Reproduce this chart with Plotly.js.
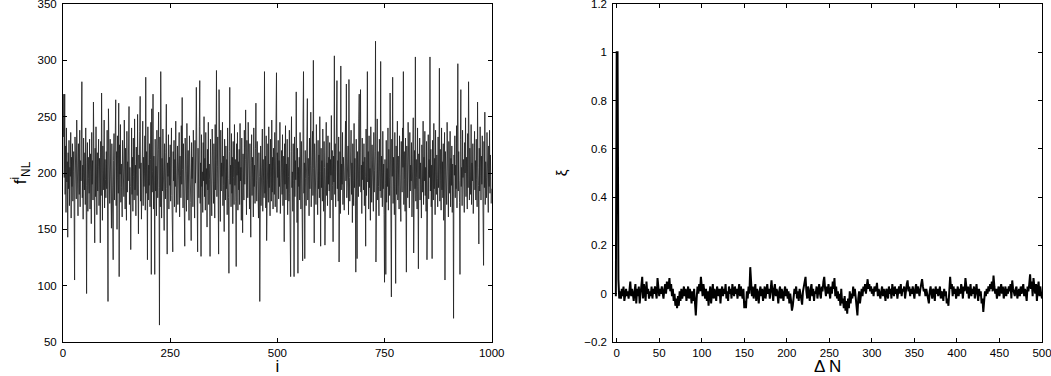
<!DOCTYPE html>
<html>
<head>
<meta charset="utf-8">
<script src="https://cdn.plot.ly/plotly-3.0.1.min.js"></script>
<style>
  html, body { margin: 0; padding: 0; background: #fff; }
  #chart { width: 1051px; height: 376px; }
</style>
</head>
<body>
<div id="chart"></div>
<script>
// Left panel: chain of f_NL samples, one value per step i = 1..1000
var fnl = [
  232,270,196,270,181,224,165,240,192,210, 143,218,186,229,171,205,197,236,160,214,
  188,226,175,201,219,168,105,232,193,209, 177,247,185,214,162,226,199,181,238,170,
  211,193,224,281,178,207,159,231,196,185,
  218,172,240,189,93,209,227,166,214,195, 182,230,168,217,201,155,236,190,211,176,
  263,187,205,138,222,179,241,196,163,218, 184,206,230,171,213,192,138,228,180,271,
  197,158,224,203,185,247,169,212,194,178,
  219,186,238,164,86,257,192,207,173,230, 188,215,151,226,197,180,123,211,235,176,
  204,189,265,171,219,150,233,196,182,262, 108,225,199,243,174,208,187,161,229,194,
  216,179,247,190,168,222,200,158,237,183,
  210,193,226,259,172,205,188,132,219,240, 181,214,166,231,197,176,248,185,207,162,
  223,199,180,252,190,146,216,204,237,268, 175,209,159,228,193,246,171,214,188,200,
  233,167,285,182,219,195,123,241,176,207,
  189,226,170,212,245,110,257,183,201,270, 168,215,193,110,230,184,206,162,238,196,
  178,221,254,187,65,232,170,290,195,160, 213,184,239,171,206,149,226,192,177,218,
  261,186,128,209,197,234,168,214,189,225,
  175,203,240,180,158,130,219,193,229,170, 212,188,246,165,207,196,224,172,210,185,
  236,161,215,198,178,242,190,267,203,169, 226,187,212,135,231,180,205,166,244,193,
  176,220,197,158,233,186,211,174,140,227,
  195,214,170,238,182,207,160,229,191,216, 276,185,203,130,222,196,178,241,282,173,
  209,126,234,188,201,165,227,193,250,179, 213,167,236,190,204,152,221,185,245,172,
  208,194,126,230,181,217,162,239,188,205,
  173,226,198,160,243,185,211,291,179,206, 232,168,128,274,194,220,157,238,184,209,
  197,245,171,215,189,148,230,201,176,224, 186,212,163,240,195,178,111,219,276,190,
  207,170,235,182,214,155,228,196,172,243,
  189,212,175,117,226,198,236,167,210,185, 221,172,244,193,205,158,231,186,147,217,
  199,176,238,190,212,256,183,163,229,201, 178,245,192,215,168,226,187,143,209,234,
  180,214,196,161,240,188,207,173,222,262,
  193,175,228,186,210,160,218,197,86,190, 224,171,206,185,239,166,212,193,178,290,
  182,215,169,233,140,204,190,226,174,241, 187,208,162,230,196,175,247,183,214,168,
  222,199,181,236,170,210,192,289,165,218,
  196,229,177,211,188,245,164,207,193,220, 181,234,171,203,215,139,226,190,242,176,
  208,186,230,163,214,197,175,238,182,160, 108,219,250,187,201,166,226,193,108,232,
  179,211,194,272,183,156,222,111,205,188,
  214,176,236,191,168,228,199,184,122,247, 290,182,209,124,220,195,171,241,188,266,
  176,213,197,162,231,186,207,254,170,219, 192,237,180,300,204,138,226,189,214,172,
  243,195,208,163,229,186,216,178,250,201,
  135,222,187,211,175,239,193,166,228,205, 136,218,196,245,180,209,171,233,190,214,
  184,227,160,212,198,251,176,220,189,139, 215,192,304,181,226,170,207,243,282,186,
  211,175,232,121,198,219,164,295,185,208,
  190,236,172,214,201,167,229,185,246,193, 279,178,210,188,224,163,283,196,175,217,
  202,238,181,209,156,226,193,171,244,187, 213,176,112,230,192,124,219,205,179,248,
  270,188,216,274,183,207,164,231,194,210,
  185,226,171,214,197,135,239,180,206,290, 192,219,168,233,187,204,158,241,196,174,
  225,189,211,166,236,183,202,219,317,121, 210,193,248,176,219,188,162,230,201,184,
  299,178,215,195,170,237,186,208,163,103,
  212,191,110,229,174,204,188,240,167,221, 196,180,271,209,185,90,230,197,285,173,
  214,188,163,236,199,102,224,181,207,246, 176,215,192,168,233,189,210,157,228,198,
  183,240,205,290,172,219,194,166,231,187,
  112,224,199,178,245,190,211,169,236,184, 207,193,227,161,214,182,249,129,203,220,
  186,303,175,212,196,168,240,188,115,217, 195,231,176,209,190,160,225,201,183,246,
  172,214,193,237,180,205,166,228,123,210,
  189,234,177,212,196,303,184,221,170,207, 124,229,192,176,244,186,213,163,238,199,
  181,216,195,170,232,187,208,293,175,221, 193,167,240,185,210,178,226,158,203,236,
  105,219,188,207,172,245,194,215,161,228,
  196,182,237,170,213,189,224,165,208,191, 71,216,198,233,178,207,186,242,169,211,
  297,184,219,193,174,110,230,274,188,205, 171,238,196,212,183,165,227,200,249,179,
  214,192,168,235,187,281,206,176,222,195,
  181,243,172,209,193,226,164,218,199,237, 185,211,176,230,194,170,263,205,189,137,
  222,184,241,197,176,215,190,233,168,206, 118,228,187,254,172,210,196,178,236,193,
  207,165,224,188,238,182,216,197,173,186
];

// Right panel: autocorrelation xi for lags -1..500
var xi = [
  -0.01,
  1.0, 1.0, 0.06, -0.02, 0.01, -0.02, 0.02, -0.01, 0.03, -0.03,
  0.00, 0.02, -0.01, 0.01, -0.02, 0.03, 0.05, -0.01, 0.02, 0.00,
  -0.03, 0.01, 0.04, -0.04, 0.02, -0.01, 0.03, -0.04, 0.01, 0.05,
  0.07, -0.02, 0.04, 0.01, -0.03, 0.05, 0.00, 0.02, -0.02, 0.01,
  -0.01, 0.03, -0.02, 0.02, 0.00, 0.03, 0.01, -0.02, 0.065, 0.02,
  -0.01, 0.02, 0.00, 0.03, 0.01, -0.02, 0.02, 0.04, 0.00, 0.05,
  0.02, 0.03, 0.065, 0.01, 0.04, -0.01, 0.02, -0.03, 0.00, -0.05,
  -0.02, -0.06, -0.01, -0.05, 0.01, -0.03, 0.02, -0.02, 0.00, 0.03,
  -0.01, 0.02, -0.03, 0.01, 0.03, -0.02, 0.02, 0.00, -0.04, 0.01,
  -0.03, 0.02, -0.05, -0.09, -0.02, 0.03, 0.00, 0.04, 0.01, 0.07,
  0.03, -0.01, 0.04, 0.00, -0.02, 0.02, -0.03, 0.01, -0.05, 0.00,
  0.03, -0.04, 0.01, 0.04, -0.02, 0.02, 0.00, -0.03, 0.03, 0.01,
  -0.01, 0.02, -0.04, 0.01, 0.03, -0.01, 0.02, 0.00, 0.04, -0.02,
  0.01, -0.03, 0.03, 0.00, 0.02, -0.02, 0.04, 0.01, -0.01, 0.03,
  0.00, 0.02, -0.02, 0.01, 0.04, -0.01, 0.03, 0.00, -0.02, 0.02,
  -0.06, -0.03, -0.06, 0.01, -0.02, 0.03, 0.00, 0.11, 0.02, -0.01,
  0.03, -0.02, 0.01, 0.04, -0.03, 0.02, 0.00, -0.04, 0.01, 0.03,
  -0.01, 0.02, -0.03, 0.00, 0.03, -0.02, 0.01, 0.04, 0.00, 0.02,
  -0.02, 0.03, 0.055, 0.01, -0.03, 0.02, 0.04, -0.01, 0.02, 0.00,
  -0.04, 0.01, 0.03, -0.02, 0.02, 0.00, -0.03, 0.01, 0.03, -0.01,
  0.02, -0.02, 0.01, -0.04, 0.00, -0.03, -0.07, -0.05, -0.01, 0.02,
  0.00, 0.03, -0.02, 0.01, -0.03, 0.02, 0.00, -0.04, -0.045, 0.01,
  0.03, 0.05, 0.07, 0.01, -0.02, 0.03, 0.00, -0.03, 0.02, 0.04,
  -0.01, 0.02, -0.03, 0.01, 0.00, 0.03, -0.02, 0.02, 0.04, 0.00,
  -0.02, 0.03, 0.01, 0.05, 0.07, 0.02, -0.01, 0.03, 0.00, 0.04,
  0.01, -0.02, 0.03, 0.00, 0.05, 0.02, 0.065, -0.01, 0.03, -0.02,
  0.01, -0.03, 0.00, -0.05, 0.02, -0.04, -0.02, -0.06, -0.01, -0.07,
  -0.03, -0.083, -0.02, -0.06, 0.01, -0.04, 0.00, -0.02, 0.03, -0.01,
  0.02, -0.03, -0.05, -0.09, -0.02, 0.01, -0.04, 0.00, 0.02, -0.01,
  0.03, 0.01, 0.04, 0.00, 0.05, 0.06, 0.02, 0.04, 0.01, 0.03,
  0.00, 0.02, -0.01, 0.03, 0.01, 0.02, 0.045, -0.01, 0.02, 0.00,
  -0.02, 0.01, 0.03, -0.01, 0.02, 0.00, -0.03, 0.02, 0.01, -0.02,
  0.03, 0.00, 0.02, -0.02, 0.04, 0.01, -0.01, 0.03, 0.00, 0.02,
  -0.02, 0.01, 0.03, 0.00, 0.04, -0.01, 0.02, 0.01, 0.03, -0.02,
  0.02, 0.04, 0.055, 0.01, 0.03, -0.01, 0.02, 0.00, 0.03, 0.01,
  -0.02, 0.02, 0.04, 0.00, 0.03, 0.01, -0.01, 0.02, 0.04, 0.06,
  0.03, 0.01, 0.02, -0.01, 0.02, 0.00, -0.02, -0.04, 0.01, 0.03,
  0.00, -0.02, 0.02, 0.01, -0.03, 0.03, 0.00, 0.02, -0.01, 0.01,
  0.03, -0.02, 0.01, 0.00, -0.03, 0.02, -0.01, 0.01, -0.04, -0.02,
  -0.05, 0.01, 0.07, 0.02, 0.04, -0.01, 0.03, 0.00, 0.02, -0.02,
  0.01, 0.03, -0.01, 0.02, 0.00, 0.04, 0.02, -0.02, 0.03, 0.01,
  0.065, 0.02, 0.00, 0.03, -0.02, 0.01, 0.04, -0.01, 0.02, 0.00,
  0.03, -0.02, 0.01, 0.04, 0.00, -0.03, 0.02, -0.01, 0.01, -0.04,
  -0.02, -0.075, -0.03, 0.01, -0.01, 0.02, 0.00, 0.03, 0.01, 0.04,
  0.02, 0.05, 0.01, 0.075, 0.03, 0.00, 0.02, -0.02, 0.01, 0.03,
  -0.01, 0.02, 0.04, 0.00, 0.03, -0.02, 0.01, 0.03, -0.01, 0.02,
  0.00, 0.03, 0.01, 0.04, -0.02, 0.055, 0.02, 0.00, -0.01, 0.02,
  0.03, -0.02, 0.01, 0.02, -0.01, 0.03, 0.00, 0.02, 0.04, -0.01,
  0.02, 0.00, -0.03, 0.03, 0.01, 0.04, 0.08, 0.02, 0.05, -0.01,
  0.065, 0.03, 0.00, 0.04, -0.03, 0.02, 0.05, -0.01, 0.03, 0.00, -0.02
];

var leftTicks = [0, 250, 500, 750, 1000];
var firstLag = -1;

// step and lag indices
var steps = [];
for (var k = 0; k < fnl.length; k++) steps.push(k + 1);
var lags = [];
for (var k = 0; k < xi.length; k++) lags.push(firstLag + k);

var chain = {
  x: steps, y: fnl,
  type: 'scatter', mode: 'lines',
  line: {color: '#222', width: 0.85},
  xaxis: 'x', yaxis: 'y',
  hoverinfo: 'skip'
};

var autocorr = {
  x: lags, y: xi,
  type: 'scatter', mode: 'lines',
  line: {color: 'black', width: 2},
  xaxis: 'x2', yaxis: 'y2',
  hoverinfo: 'skip'
};

var tickFont = {family: 'Liberation Sans, Arial, sans-serif', size: 11.5, color: 'black'};
var titleFont = {family: 'Liberation Sans, Arial, sans-serif', size: 17, color: 'black'};

function frame(extra) {
  var ax = {
    showline: true, linecolor: 'black', linewidth: 1, mirror: 'ticks',
    ticks: 'inside', ticklen: 4, tickcolor: 'black', tickwidth: 1,
    showgrid: false, zeroline: false, tickfont: tickFont,
    ticklabeloverflow: 'allow'
  };
  for (var key in extra) ax[key] = extra[key];
  return ax;
}

var layout = {
  width: 1051, height: 376,
  margin: {l: 63, r: 9, t: 4, b: 34},
  paper_bgcolor: 'white', plot_bgcolor: 'white',
  showlegend: false,
  xaxis: frame({
    domain: [0, 0.4379], range: [0, 1000],
    tickmode: 'array', tickvals: leftTicks, ticklabelstandoff: 0,
    title: {text: 'i', font: titleFont, standoff: 7}
  }),
  yaxis: frame({
    range: [50, 350], dtick: 50, anchor: 'x', ticklabelstandoff: 3,
    title: {text: 'f<sup>i</sup><sub>NL</sub>', font: titleFont, standoff: 6}
  }),
  xaxis2: frame({
    domain: [0.5621, 1], range: [-4, 500], dtick: 50, anchor: 'y2', ticklabelstandoff: 0,
    title: {text: '&#916; N', font: titleFont, standoff: 7}
  }),
  yaxis2: frame({
    range: [-0.2, 1.2], dtick: 0.2, anchor: 'x2', ticklabelstandoff: 3,
    title: {text: '&#958;', font: {family: 'Liberation Sans, Arial, sans-serif', size: 15, color: 'black'}, standoff: 13}
  })
};

Plotly.newPlot('chart', [chain, autocorr], layout, {displayModeBar: false, staticPlot: true});
</script>
</body>
</html>
